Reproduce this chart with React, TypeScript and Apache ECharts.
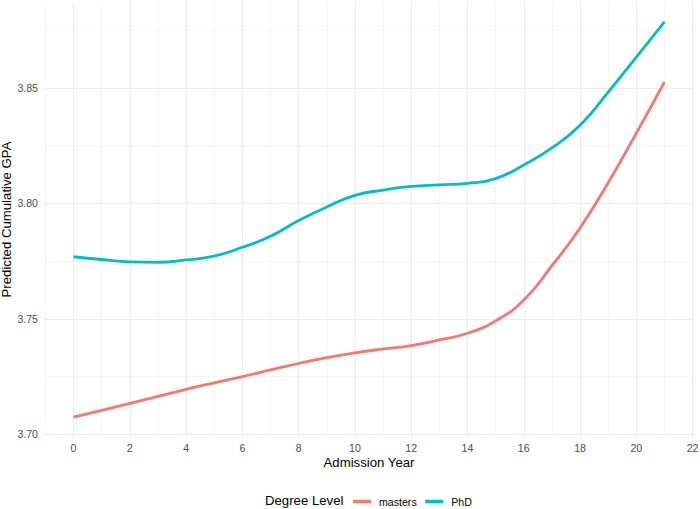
import React, { useEffect, useRef } from "react";
import * as echarts from "echarts";

const admissionYears = [0, 1, 2, 3, 4, 5, 6, 7, 8, 9, 10, 11, 12, 13, 14, 15, 16, 17, 18, 19, 20, 21];
const mastersGPA = [3.7073, 3.7103, 3.7133, 3.7163, 3.7194, 3.7222, 3.7249, 3.7278, 3.7306, 3.7331, 3.7352, 3.7369, 3.7384, 3.7408, 3.7437, 3.7491, 3.7581, 3.773, 3.7894, 3.809, 3.8305, 3.8527];
const phdGPA = [3.7769, 3.7757, 3.7747, 3.7745, 3.7755, 3.7772, 3.781, 3.7858, 3.7926, 3.7985, 3.8035, 3.8058, 3.8074, 3.8081, 3.8087, 3.8108, 3.8167, 3.8241, 3.8339, 3.8483, 3.8635, 3.8788];
const xMajorTicks = [0, 2, 4, 6, 8, 10, 12, 14, 16, 18, 20, 22];
const xMinorTicks = [-1, 1, 3, 5, 7, 9, 11, 13, 15, 17, 19, 21];
const yMajorTicks = [3.7, 3.75, 3.8, 3.85];
const yMinorTicks = [3.725, 3.775, 3.825, 3.875];
const seriesNames = ["masters", "PhD"];
const seriesColors = ["#F8766D", "#00BFC4"];

const FONT = "'Liberation Sans', Arial, sans-serif";

export default function App() {
  const ref = useRef<HTMLDivElement>(null);
  useEffect(() => {
    document.body.style.margin = "0";
    const chart = echarts.init(ref.current!, null, { renderer: "svg" });
    const xMin = -1.05;
    const xMax = 22.05;
    const yMin = 3.69872;
    const yMax = 3.88738;
    chart.setOption({
      animation: false,
      backgroundColor: "#FFFFFF",
      textStyle: { fontFamily: FONT },
      grid: { left: 44, right: 6, top: 2, bottom: 72, containLabel: false, outerBoundsMode: "none" },
      xAxis: [
        {
          type: "value",
          min: xMin,
          max: xMax,
          name: "Admission Year",
          nameLocation: "middle",
          nameGap: 19,
          nameMoveOverlap: false,
          nameTextStyle: { color: "#000000", fontSize: 13.2, fontFamily: FONT },
          axisLine: { show: false },
          axisTick: { show: false, customValues: xMajorTicks },
          axisLabel: {
            customValues: xMajorTicks,
            color: "#4D4D4D",
            fontSize: 10.6,
            fontFamily: FONT,
            margin: 5,
            formatter: (v: number) => String(v),
          },
          splitLine: { show: true, lineStyle: { color: "#EBEBEB", width: 1.1 } },
        },
        {
          type: "value",
          min: xMin,
          max: xMax,
          position: "bottom",
          axisLine: { show: false },
          axisTick: { show: false, customValues: xMinorTicks },
          axisLabel: { show: false, customValues: xMinorTicks },
          splitLine: { show: true, lineStyle: { color: "#F0F0F0", width: 0.6 } },
        },
      ],
      yAxis: [
        {
          type: "value",
          min: yMin,
          max: yMax,
          name: "Predicted Cumulative GPA",
          nameLocation: "middle",
          nameGap: 31,
          nameMoveOverlap: false,
          nameTextStyle: { color: "#000000", fontSize: 13.2, fontFamily: FONT },
          axisLine: { show: false },
          axisTick: { show: false, customValues: yMajorTicks },
          axisLabel: {
            customValues: yMajorTicks,
            color: "#4D4D4D",
            fontSize: 10.6,
            fontFamily: FONT,
            margin: 6,
            formatter: (v: number) => v.toFixed(2),
          },
          splitLine: { show: true, lineStyle: { color: "#EBEBEB", width: 1.1 } },
        },
        {
          type: "value",
          min: yMin,
          max: yMax,
          position: "left",
          axisLine: { show: false },
          axisTick: { show: false, customValues: yMinorTicks },
          axisLabel: { show: false, customValues: yMinorTicks },
          splitLine: { show: true, lineStyle: { color: "#F0F0F0", width: 0.6 } },
        },
      ],
      legend: {
        data: seriesNames,
        left: 353,
        top: 496,
        padding: 0,
        orient: "horizontal",
        icon: "rect",
        itemWidth: 18,
        itemHeight: 3.5,
        itemGap: 8.5,
        textStyle: { color: "#000000", fontSize: 10.6, fontFamily: FONT, padding: [0, 0, 0, 3] },
        selectedMode: false,
      },
      graphic: [
        {
          type: "text",
          left: 265,
          top: 494,
          style: { text: "Degree Level", fill: "#000000", fontSize: 13.2, fontFamily: FONT },
        },
      ],
      series: [
        {
          name: seriesNames[0],
          type: "line",
          xAxisIndex: 0,
          yAxisIndex: 0,
          data: admissionYears.map((x, i) => [x, mastersGPA[i]]),
          smooth: 0.5,
          showSymbol: false,
          symbol: "none",
          itemStyle: { color: seriesColors[0] },
          lineStyle: { color: seriesColors[0], width: 2.8 },
          z: 3,
        },
        {
          name: seriesNames[1],
          type: "line",
          xAxisIndex: 0,
          yAxisIndex: 0,
          data: admissionYears.map((x, i) => [x, phdGPA[i]]),
          smooth: 0.5,
          showSymbol: false,
          symbol: "none",
          itemStyle: { color: seriesColors[1] },
          lineStyle: { color: seriesColors[1], width: 2.8 },
          z: 3,
        },
      ],
    });
    return () => chart.dispose();
  }, []);
  return <div ref={ref} style={{ width: 700, height: 509 }} />;
}
